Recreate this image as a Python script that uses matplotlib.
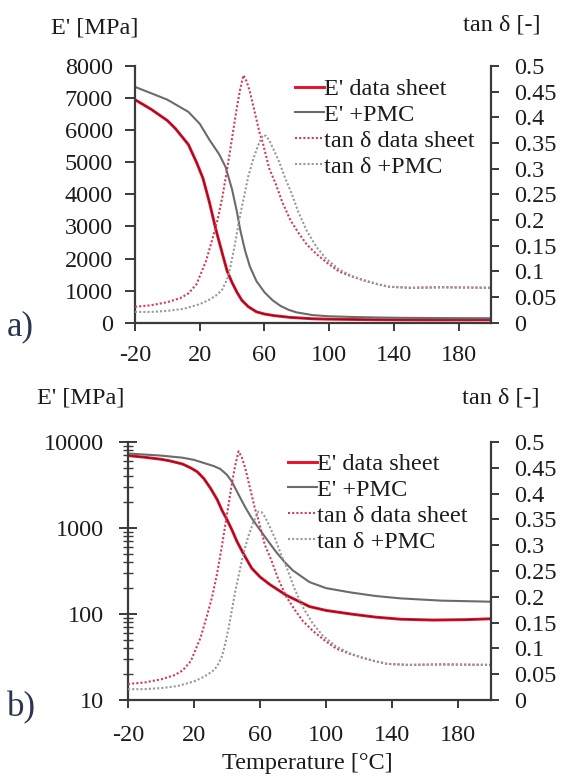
import matplotlib
matplotlib.use("Agg")
import matplotlib.pyplot as plt
from matplotlib.ticker import FixedLocator, LogLocator, NullFormatter, FuncFormatter

plt.rcParams['font.family'] = ['Liberation Serif', 'DejaVu Serif']
plt.rcParams['axes.unicode_minus'] = False

# Storage modulus E' [MPa]
temp_e_sheet = [-20, -10, 0, 5, 13, 18, 22, 26, 30, 34, 37, 40, 43, 46, 50, 55,
                60, 66, 76, 90, 100, 115, 130, 145, 165, 185, 200]
e_sheet = [6950, 6650, 6300, 6050, 5550, 5000, 4500, 3750, 2900, 2150, 1600, 1250,
           950, 700, 500, 340, 270, 220, 165, 122, 110, 100, 92, 87, 85, 86, 88]

temp_e_pmc = [-20, -10, 0, 13, 20, 26, 32, 36, 40, 43, 45, 48, 51, 55, 60, 65, 70,
              75, 80, 90, 100, 115, 130, 145, 170, 200]
e_pmc = [7350, 7150, 6950, 6570, 6200, 5700, 5250, 4850, 4150, 3450, 2900, 2250,
         1750, 1300, 950, 700, 520, 400, 320, 235, 200, 178, 162, 152, 143, 139]

# Loss factor tan delta [-]
temp_tan_sheet = [-20, -10, 0, 8, 13, 18, 24, 28, 31, 34, 37, 40, 43, 45, 47, 49,
                  51, 54, 57, 59, 63, 67, 71, 76, 81, 86, 92, 99, 106, 114, 122,
                  130, 137, 150, 170, 200]
tan_sheet = [0.031, 0.034, 0.040, 0.048, 0.057, 0.075, 0.121, 0.165, 0.200, 0.245,
             0.300, 0.360, 0.420, 0.455, 0.482, 0.470, 0.450, 0.410, 0.370, 0.350,
             0.300, 0.270, 0.235, 0.200, 0.175, 0.153, 0.134, 0.116, 0.100, 0.090,
             0.082, 0.075, 0.070, 0.068, 0.069, 0.068]

temp_tan_pmc = [-20, -10, 0, 10, 20, 26, 31, 34, 37, 39, 41, 43, 45, 47, 50, 53,
                56, 59, 61, 63, 66, 69, 73, 77, 81, 86, 92, 98, 106, 114, 122, 130,
                137, 150, 170, 200]
tan_pmc = [0.021, 0.021, 0.023, 0.027, 0.036, 0.045, 0.055, 0.065, 0.085, 0.110,
           0.140, 0.175, 0.210, 0.240, 0.285, 0.318, 0.345, 0.365, 0.364, 0.355,
           0.335, 0.314, 0.280, 0.250, 0.215, 0.180, 0.148, 0.125, 0.104, 0.091,
           0.082, 0.075, 0.070, 0.068, 0.069, 0.068]

x_ticks = [-20, 20, 60, 100, 140, 180]
e_lin_ticks = [0, 1000, 2000, 3000, 4000, 5000, 6000, 7000, 8000]
e_log_ticks = [10, 100, 1000, 10000]
tan_ticks = [0, 0.05, 0.1, 0.15, 0.2, 0.25, 0.3, 0.35, 0.4, 0.45, 0.5]

labels = ["E' data sheet", "E' +PMC", "tan δ data sheet", "tan δ +PMC"]

RED = '#e8102a'
RED_CORE = '#7a1220'
GRAY = '#6b6b6b'
TAN_RED = '#cf3d57'
TAN_GRAY = '#999999'
AX = '#3a3a3a'
TXT = '#1c1c1c'
PANEL = '#2a3552'
FS = 17.5

W, H = 562, 780
fig = plt.figure(figsize=(W / 100, H / 100), dpi=100)


def px_rect(l, r, t, b):
    return [l / W, 1 - b / H, (r - l) / W, (b - t) / H]


def tan_fmt(v, _):
    return f"{v:.2f}".rstrip('0').rstrip('.')


def draw_panel(rect, log, legend_xy, lbl_e_xy, lbl_t_xy, panel_xy, panel_txt, xpad):
    ax = fig.add_axes(rect)
    ax.set_facecolor('none')
    l1, = ax.plot(temp_e_sheet, e_sheet, color=RED, lw=2.1)
    ax.plot(temp_e_sheet, e_sheet, color=RED_CORE, lw=0.7)
    l2, = ax.plot(temp_e_pmc, e_pmc, color=GRAY, lw=1.5)
    ax.set_xlim(-20, 200)
    if log:
        ax.set_yscale('log')
        ax.set_ylim(10, 10000)
        ax.yaxis.set_major_locator(FixedLocator(e_log_ticks))
        ax.yaxis.set_minor_locator(LogLocator(base=10, subs=range(2, 10)))
        ax.yaxis.set_minor_formatter(NullFormatter())
        ax.yaxis.set_major_formatter(FuncFormatter(lambda v, _: f"{int(round(v))}"))
        ax.tick_params(axis='y', which='major', direction='inout', length=13,
                       width=1.4, pad=11, colors=AX, labelcolor=TXT, labelsize=FS)
        ax.tick_params(axis='y', which='minor', direction='inout', length=7,
                       width=1.0, colors=AX)
    else:
        ax.set_ylim(0, 8000)
        ax.yaxis.set_major_locator(FixedLocator(e_lin_ticks))
        ax.tick_params(axis='y', direction='out', length=7, width=1.4, pad=9,
                       colors=AX, labelcolor=TXT, labelsize=FS)
    ax.xaxis.set_major_locator(FixedLocator(x_ticks))
    ax.tick_params(axis='x', direction='out', length=6, width=1.4, pad=xpad,
                   colors=AX, labelcolor=TXT, labelsize=FS)
    for s in ('top', 'right'):
        ax.spines[s].set_visible(False)
    for s in ('left', 'bottom'):
        ax.spines[s].set_color(AX)
        ax.spines[s].set_linewidth(1.6)

    ax2 = ax.twinx()
    l3, = ax2.plot(temp_tan_sheet, tan_sheet, color=TAN_RED, lw=1.5,
                   linestyle=(0, (1, 1)))
    l4, = ax2.plot(temp_tan_pmc, tan_pmc, color=TAN_GRAY, lw=1.5,
                   linestyle=(0, (1, 1)))
    ax2.set_ylim(0, 0.5)
    ax2.yaxis.set_major_locator(FixedLocator(tan_ticks))
    ax2.yaxis.set_major_formatter(FuncFormatter(tan_fmt))
    ax2.tick_params(axis='y', direction='out', length=6, width=1.4, pad=11,
                    colors=AX, labelcolor=TXT, labelsize=FS)
    for s in ('top', 'left', 'bottom'):
        ax2.spines[s].set_visible(False)
    ax2.spines['right'].set_color(AX)
    ax2.spines['right'].set_linewidth(1.6)

    ax2.legend([l1, l2, l3, l4], labels,
               loc='upper left', bbox_to_anchor=(legend_xy[0] / W, 1 - legend_xy[1] / H),
               bbox_transform=fig.transFigure, frameon=False, fontsize=FS,
               borderpad=0, borderaxespad=0, handlelength=1.2, handletextpad=0.0,
               labelspacing=0.16, labelcolor=TXT)

    fig.text(lbl_e_xy[0] / W, 1 - lbl_e_xy[1] / H, "E' [MPa]", fontsize=FS,
             ha='center', va='center', color=TXT)
    fig.text(lbl_t_xy[0] / W, 1 - lbl_t_xy[1] / H, "tan δ [-]", fontsize=FS,
             ha='center', va='center', color=TXT)
    fig.text(panel_xy[0] / W, 1 - panel_xy[1] / H, panel_txt, fontsize=25,
             ha='left', va='center', color=PANEL)
    return ax


draw_panel(px_rect(135, 491, 66, 322.7), False, (295, 78), (95, 28), (502, 25),
           (7, 327), 'a)', 10)
draw_panel(px_rect(128, 491, 442, 700), True, (288, 453), (81, 398),
           (501, 398), (7, 708), 'b)', 12)
fig.text(307 / W, 1 - 763 / H, 'Temperature [°C]', fontsize=FS, ha='center',
         va='center', color=TXT)

fig.savefig('out.png', dpi=100, facecolor='white')
